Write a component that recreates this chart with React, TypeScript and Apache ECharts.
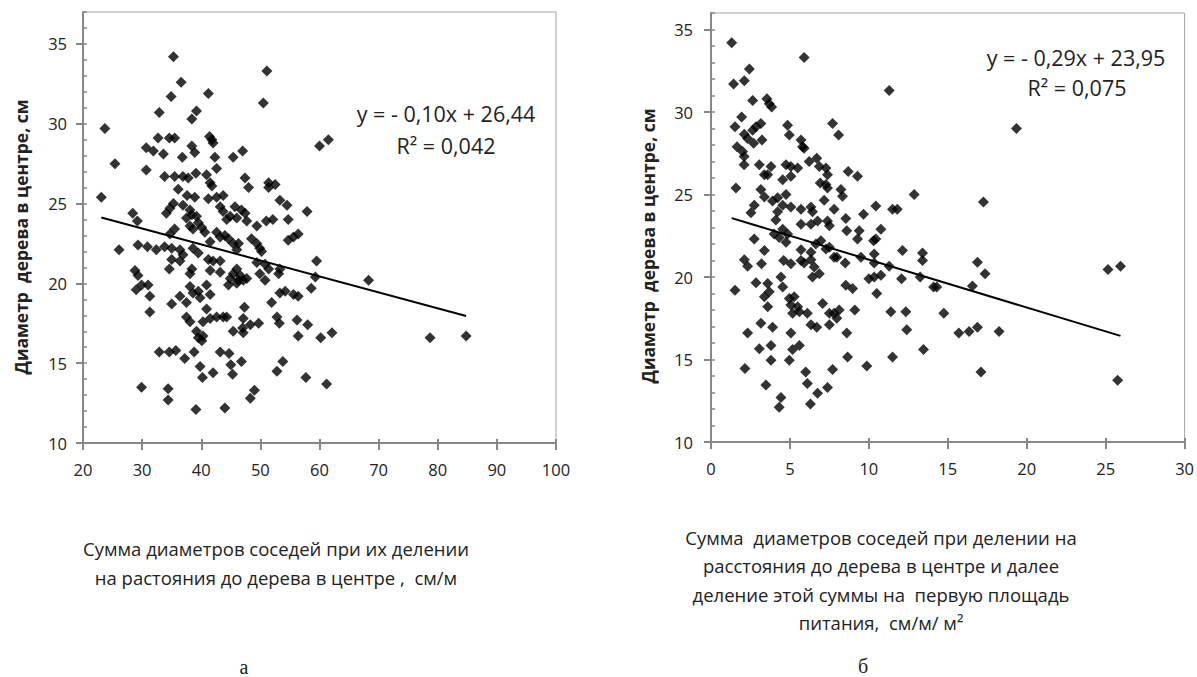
import React, { useEffect, useRef } from "react";
import * as echarts from "echarts";

// ---- Data ----
const LEFT_POINTS: number[][] = [
  [35.3,34.2],[51.1,33.3],[36.6,32.6],[41.2,31.9],[34.9,31.7],[50.5,31.3],[32.9,30.7],[39.2,30.8],[38.4,30.3],[23.7,29.7],
  [60.0,28.6],[61.5,29.0],[32.7,29.1],[34.6,29.1],[35.5,29.1],[41.4,29.2],[41.8,29.0],[42.0,28.8],[30.7,28.5],[31.9,28.3],
  [33.6,28.1],[38.4,28.6],[38.9,28.2],[36.8,27.9],[42.3,27.9],[45.4,27.9],[47.0,28.3],[25.4,27.5],[30.7,27.1],[42.6,27.2],
  [33.8,26.7],[35.5,26.7],[36.9,26.7],[37.8,26.6],[39.1,26.9],[40.9,26.8],[41.5,26.3],[41.8,26.1],[47.4,26.6],[48.0,26.0],
  [51.4,26.3],[52.5,26.2],[51.4,26.0],[23.1,25.4],[36.1,25.9],[37.6,25.5],[38.9,25.4],[41.2,25.3],[42.6,25.4],[43.7,25.5],
  [53.3,25.2],[54.5,24.9],[35.3,25.0],[34.7,24.7],[34.1,24.4],[36.9,24.9],[38.1,24.6],[38.4,24.3],[43.2,24.8],[43.7,24.5],
  [44.9,24.2],[45.7,24.8],[46.8,24.6],[47.4,24.4],[28.4,24.4],[29.2,23.9],[44.3,24.0],[46.0,24.1],[47.7,23.9],[49.4,23.6],
  [51.0,23.9],[52.1,24.0],[54.7,24.0],[57.9,24.5],[37.5,24.1],[39.2,24.2],[39.5,23.8],[38.1,23.6],[38.6,23.4],[40.1,23.5],
  [40.6,23.2],[35.5,23.4],[34.7,23.1],[42.6,23.2],[43.2,22.9],[44.0,23.0],[44.6,22.8],[41.5,22.6],[48.5,22.8],[49.4,22.5],
  [49.9,22.2],[50.2,22.0],[54.7,22.7],[55.6,22.9],[56.4,23.1],[45.4,22.5],[46.0,22.1],[46.3,22.5],[26.1,22.1],[29.3,22.4],
  [30.9,22.3],[32.4,22.1],[33.8,22.3],[35.0,22.2],[36.4,22.1],[38.6,22.2],[39.5,21.9],[35.0,21.5],[36.4,21.4],[36.9,21.8],
  [41.2,21.5],[42.0,21.4],[43.2,21.4],[49.4,21.3],[50.8,21.2],[51.4,20.9],[59.5,21.4],[34.6,20.9],[38.4,20.9],[38.1,20.6],
  [41.5,20.8],[43.2,20.7],[46.0,20.9],[46.6,20.5],[47.1,20.2],[45.4,20.6],[44.9,20.3],[46.3,20.2],[47.7,20.3],[44.6,19.9],
  [46.0,20.0],[49.9,20.6],[50.8,20.2],[53.3,20.9],[53.1,20.6],[59.3,20.4],[68.3,20.2],[28.8,20.8],[29.3,20.5],[29.0,19.6],
  [29.9,19.9],[31.0,19.9],[31.3,19.2],[31.3,18.2],[35.0,18.7],[36.4,19.2],[37.5,18.8],[38.1,19.8],[38.6,19.4],[39.5,19.5],
  [39.8,19.1],[40.9,19.9],[41.5,19.3],[40.9,18.4],[37.5,17.9],[38.1,17.6],[40.3,17.6],[41.5,17.8],[42.6,17.9],[43.7,17.9],
  [44.3,17.9],[39.2,17.0],[39.5,16.6],[40.1,16.4],[40.3,16.7],[45.4,17.0],[47.0,17.2],[47.1,17.8],[47.1,16.9],[48.3,17.4],
  [49.7,17.5],[47.3,18.5],[51.9,18.8],[53.3,19.4],[54.2,19.5],[55.6,19.3],[56.4,19.2],[52.8,17.9],[53.2,17.5],[56.2,17.7],
  [58.0,17.4],[56.4,16.7],[58.6,19.7],[60.2,16.6],[62.1,16.9],[32.9,15.7],[34.6,15.7],[35.7,15.8],[37.2,15.3],[38.8,15.7],
  [39.8,14.8],[40.2,14.1],[42.0,14.4],[43.2,15.7],[44.7,15.6],[45.0,14.9],[45.3,14.3],[46.8,15.1],[52.8,14.5],[53.8,15.1],
  [57.7,14.1],[61.2,13.7],[29.9,13.5],[34.4,13.4],[34.4,12.7],[39.1,12.1],[44.0,12.2],[48.3,12.8],[49.0,13.3],[78.7,16.6],
  [84.8,16.7]
];

const RIGHT_POINTS: number[][] = [
  [1.31,34.2],[5.9,33.3],[2.43,32.6],[2.11,31.9],[1.43,31.7],[11.29,31.3],[2.64,30.7],[3.54,30.8],[3.69,30.5],[3.84,30.3],
  [1.94,29.7],[1.52,29.1],[2.85,29.1],[3.16,29.3],[2.64,28.9],[2.11,28.65],[2.32,28.4],[2.7,28.1],[3.23,28.3],[4.85,29.2],
  [4.96,28.6],[5.7,28.3],[5.8,27.9],[5.9,27.8],[7.7,29.3],[8.08,28.6],[1.65,27.9],[2.0,27.6],[2.1,27.3],[2.1,26.8],
  [3.06,26.8],[3.8,26.7],[3.38,26.2],[3.59,26.2],[4.75,26.8],[5.06,26.7],[5.49,26.6],[4.54,25.9],[5.06,26.1],[6.22,27.0],
  [6.7,27.2],[6.86,26.7],[7.28,26.6],[7.38,26.2],[8.69,26.4],[9.28,26.1],[6.92,25.7],[7.28,25.6],[7.38,25.4],[8.23,25.3],
  [8.33,24.9],[1.58,25.4],[3.16,25.3],[3.38,24.85],[2.74,24.35],[2.53,23.9],[3.9,24.6],[4.22,24.8],[4.75,25.0],[4.54,24.35],
  [4.22,23.95],[4.11,23.45],[5.06,24.25],[5.7,24.1],[6.33,24.25],[6.43,23.95],[7.17,24.65],[7.8,24.1],[12.87,25.0],[17.26,24.55],
  [10.44,24.3],[11.5,24.1],[11.8,24.1],[9.66,23.8],[8.54,23.55],[8.6,22.8],[5.7,23.2],[6.33,23.2],[6.75,23.4],[7.38,23.4],
  [7.5,23.1],[10.76,22.9],[9.39,22.8],[9.28,22.3],[10.44,22.3],[10.3,22.2],[10.34,21.4],[2.74,22.3],[3.38,21.6],[4.0,22.6],
  [4.54,22.9],[4.85,22.6],[4.75,22.1],[4.32,22.4],[5.7,21.65],[6.33,21.5],[6.64,22.0],[6.96,22.2],[7.28,21.7],[7.5,21.8],
  [7.8,21.2],[7.97,21.2],[12.13,21.6],[13.4,21.45],[13.4,21.0],[9.5,21.2],[10.34,20.85],[11.29,20.65],[2.11,21.05],[2.32,20.65],
  [3.2,20.8],[4.6,21.0],[5.06,20.8],[5.7,21.0],[5.9,20.85],[6.33,21.05],[6.54,20.6],[6.86,20.2],[6.43,20.0],[8.5,20.85],
  [16.88,20.9],[17.36,20.2],[2.85,19.65],[3.59,19.6],[4.43,20.0],[4.54,19.4],[3.69,19.1],[3.38,18.8],[3.59,18.2],[3.16,17.2],
  [1.52,19.2],[4.96,18.7],[5.27,18.8],[5.06,18.3],[5.49,18.2],[5.17,17.8],[5.6,17.9],[6.1,17.8],[10.0,19.9],[10.34,20.0],
  [10.76,20.1],[10.5,19.0],[8.54,19.5],[8.97,19.3],[7.07,18.4],[7.5,17.8],[7.8,17.8],[8.12,18.0],[7.97,17.5],[9.11,18.0],
  [12.07,19.9],[13.25,20.0],[14.1,19.4],[14.3,19.4],[16.56,19.45],[11.39,17.9],[12.34,17.9],[14.75,17.8],[12.4,16.8],[15.7,16.6],
  [16.35,16.7],[16.88,16.95],[18.25,16.7],[2.32,16.6],[3.9,16.95],[5.06,16.6],[5.17,15.6],[5.6,15.85],[4.96,14.95],[6.33,17.1],
  [6.7,16.95],[7.5,17.1],[8.6,16.6],[3.06,15.65],[3.8,15.85],[3.8,14.95],[8.65,15.15],[9.87,14.6],[11.5,15.15],[13.46,15.6],
  [17.1,14.25],[2.15,14.45],[3.48,13.45],[4.43,12.7],[4.32,12.1],[6.0,14.25],[6.1,13.55],[6.75,12.95],[6.3,12.3],[7.38,13.3],
  [7.7,14.4],[19.35,29.0],[25.15,20.45],[25.94,20.65],[25.76,13.75]
];

// trend line end points (from the displayed equations)
const LEFT_TREND: number[][] = [[23.1, 24.13], [84.8, 17.96]];
const RIGHT_TREND: number[][] = [[1.31, 23.57], [25.94, 16.43]];

const LEFT_X_TICKS = [20, 30, 40, 50, 60, 70, 80, 90, 100];
const LEFT_Y_TICKS = [10, 15, 20, 25, 30, 35];
const RIGHT_X_TICKS = [0, 5, 10, 15, 20, 25, 30];
const RIGHT_Y_TICKS = [10, 15, 20, 25, 30, 35];

const Y_TITLE = "Диаметр  дерева в центре, см";
const LEFT_EQ = ["y = - 0,10x + 26,44", "R² = 0,042"];
const RIGHT_EQ = ["y = - 0,29x + 23,95", "R² = 0,075"];
const LEFT_X_TITLE = ["Сумма диаметров соседей при их делении", "на растояния до дерева в центре ,  см/м"];
const RIGHT_X_TITLE = [
  "Сумма  диаметров соседей при делении на",
  "расстояния до дерева в центре и далее",
  "деление этой суммы на  первую площадь",
  "питания,  см/м/ м²",
];
const PANEL_LABELS = ["а", "б"];

const FONT = "'Open Sans', 'Noto Sans', sans-serif";
const AXIS_COLOR = "#878787";
const TEXT_COLOR = "#222";

function majorX(gridIndex: number, min: number, max: number, interval: number, ticks: number[]) {
  return {
    type: "value", gridIndex, min, max, interval, position: "bottom",
    axisLine: { show: true, onZero: false, lineStyle: { color: AXIS_COLOR, width: 2 } },
    axisTick: { show: true, length: 7, customValues: ticks, lineStyle: { color: AXIS_COLOR, width: 2 } },
    axisLabel: { show: true, customValues: ticks, margin: 18, fontSize: 16.5, fontFamily: FONT, color: TEXT_COLOR },
    splitLine: { show: false },
  };
}
function innerX(gridIndex: number, min: number, max: number, interval: number) {
  return {
    type: "value", gridIndex, min, max, interval, position: "bottom",
    axisLine: { show: false, onZero: false },
    axisTick: { show: true, inside: true, length: 4, lineStyle: { color: AXIS_COLOR, width: 2 } },
    axisLabel: { show: false },
    splitLine: { show: false },
  };
}
function majorY(gridIndex: number, min: number, max: number, ticks: number[], margin: number) {
  return {
    type: "value", gridIndex, min, max, interval: 5, position: "left",
    axisLine: { show: true, onZero: false, lineStyle: { color: AXIS_COLOR, width: 2 } },
    axisTick: { show: true, length: 7, customValues: ticks, lineStyle: { color: AXIS_COLOR, width: 2 } },
    axisLabel: { show: true, customValues: ticks, margin, fontSize: 16.5, fontFamily: FONT, color: TEXT_COLOR },
    splitLine: { show: false },
  };
}
function minorY(gridIndex: number, min: number, max: number) {
  return {
    type: "value", gridIndex, min, max, interval: 1, position: "left",
    axisLine: { show: false, onZero: false },
    axisTick: { show: true, inside: true, length: 4, lineStyle: { color: AXIS_COLOR, width: 1.5 } },
    axisLabel: { show: false },
    splitLine: { show: false },
  };
}

function txt(x: number, y: number, text: string, font: string, extra: any = {}) {
  return {
    type: "text", x, y, silent: true, ...extra,
    style: { text, font, fill: TEXT_COLOR, textAlign: "center", textVerticalAlign: "middle" },
  };
}

export default function App() {
  const ref = useRef<HTMLDivElement>(null);
  useEffect(() => {
    if (!ref.current) return;
    const chart = echarts.init(ref.current, null, { renderer: "svg" });
    const eqFont = `21.5px ${FONT}`;
    const titleFont = `18.5px ${FONT}`;
    const yTitleFont = `bold 17.5px ${FONT}`;
    const serif = "20px 'Liberation Serif', 'Times New Roman', serif";

    const graphics: any[] = [
      txt(21, 237, Y_TITLE, yTitleFont, { rotation: Math.PI / 2 }),
      txt(648, 246, Y_TITLE, yTitleFont, { rotation: Math.PI / 2 }),
      txt(446, 113, LEFT_EQ[0], eqFont),
      txt(446, 145, LEFT_EQ[1], eqFont),
      txt(1076, 57, RIGHT_EQ[0], eqFont),
      txt(1077, 87, RIGHT_EQ[1], eqFont),
      txt(244, 667, PANEL_LABELS[0], serif),
      txt(863, 666, PANEL_LABELS[1], serif),
    ];
    LEFT_X_TITLE.forEach((t, i) => graphics.push(txt(276, 548 + i * 29, t, titleFont)));
    RIGHT_X_TITLE.forEach((t, i) => graphics.push(txt(881, 537 + i * 28.5, t, titleFont)));

    const scatterStyle = { color: "#000" };
    chart.setOption({
      animation: false,
      backgroundColor: "#fff",
      grid: [
        { left: 83, top: 12, width: 473, height: 431, show: true, borderColor: "#a6a6a6", borderWidth: 1, backgroundColor: "#fff" },
        { left: 711, top: 13, width: 474, height: 429, show: true, borderColor: "#a6a6a6", borderWidth: 1, backgroundColor: "#fff" },
      ],
      xAxis: [
        majorX(0, 20, 100, 10, LEFT_X_TICKS),
        innerX(0, 20, 100, 10),
        majorX(1, 0, 30, 5, RIGHT_X_TICKS),
        innerX(1, 0, 30, 5),
      ],
      yAxis: [
        majorY(0, 10, 37, LEFT_Y_TICKS, 16),
        minorY(0, 10, 37),
        majorY(1, 10, 36, RIGHT_Y_TICKS, 18),
        minorY(1, 10, 36),
      ],
      series: [
        { type: "scatter", xAxisIndex: 0, yAxisIndex: 0, data: LEFT_POINTS, symbol: "diamond", symbolSize: 11, itemStyle: scatterStyle },
        { type: "line", xAxisIndex: 0, yAxisIndex: 0, data: LEFT_TREND, symbol: "none", lineStyle: { color: "#000", width: 2 }, z: 3 },
        { type: "scatter", xAxisIndex: 2, yAxisIndex: 2, data: RIGHT_POINTS, symbol: "diamond", symbolSize: 11, itemStyle: scatterStyle },
        { type: "line", xAxisIndex: 2, yAxisIndex: 2, data: RIGHT_TREND, symbol: "none", lineStyle: { color: "#000", width: 2 }, z: 3 },
      ],
      graphic: graphics,
    });
    return () => chart.dispose();
  }, []);
  return <div ref={ref} style={{ position: "fixed", left: 0, top: 0, width: 1197, height: 677 }} />;
}
